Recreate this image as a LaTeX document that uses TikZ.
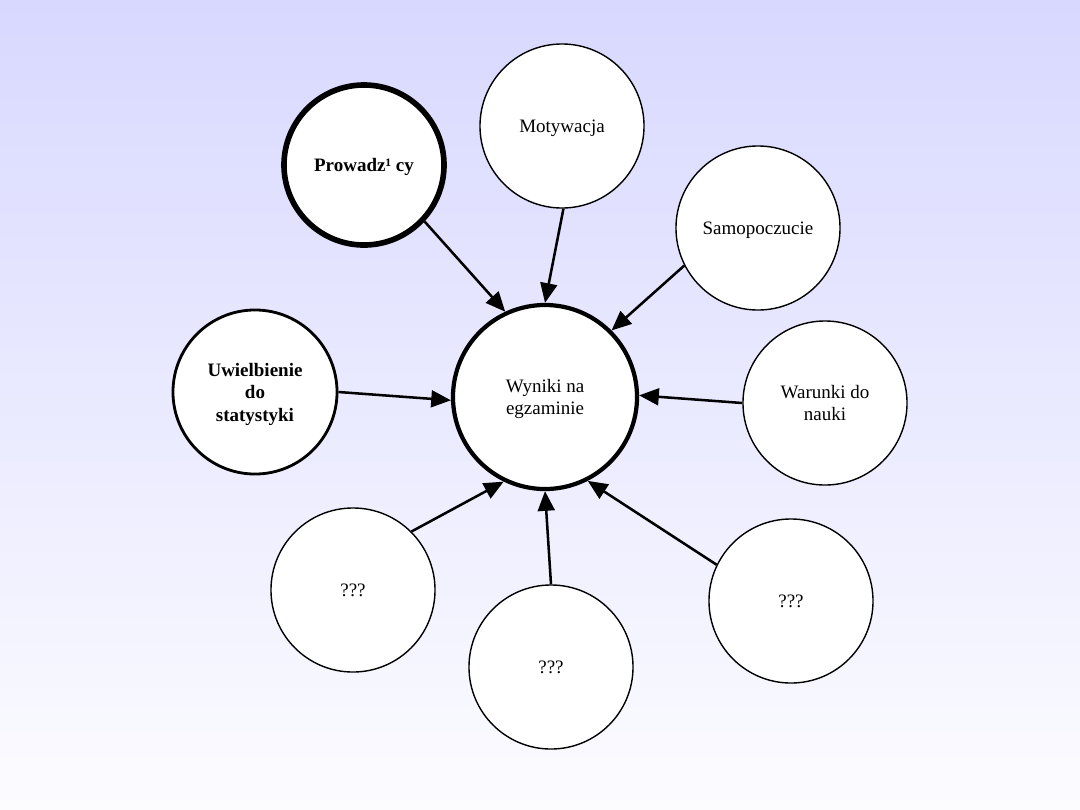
\documentclass[tikz,border=0pt]{standalone}
\usepackage{fontspec}
\setmainfont{Liberation Serif}
\usetikzlibrary{arrows.meta,positioning}
\definecolor{bgTop}{HTML}{D8D8FF}
\definecolor{bgBottom}{HTML}{FCFCFF}
\tikzset{
  >={Triangle[length=14pt,width=12pt]},
  factor/.style={circle,draw=black,fill=white,line width=1pt,minimum size=4.1cm,inner sep=2pt,align=center,text depth=-2pt,font=\fontsize{13.5}{16}\selectfont},
  factorbold/.style={factor,line width=2pt,font=\fontsize{13.5}{16}\selectfont\bfseries},
  leader/.style={factor,line width=4pt,minimum size=4cm,font=\fontsize{13.5}{16}\selectfont\bfseries},
  result/.style={factor,line width=3pt,minimum size=4.6cm},
  influence/.style={->,line width=1.8pt},
}

\begin{document}
\begin{tikzpicture}[x=0.025cm,y=-0.025cm]
  \shade[top color=bgTop, bottom color=bgBottom] (0,0) rectangle (1080,810);
  \useasboundingbox (0,0) rectangle (1080,810);

  \node[result] (exam) at (545,397) {Wyniki na\\egzaminie};

  \node[leader] (lecturer) at (364,165) {Prowadz¹ cy};
  \node[factor] (motivation) at (562,126) {Motywacja};
  \node[factor] (wellbeing) at (758,228) {Samopoczucie};
  \node[factor] (conditions) at (825,403) {Warunki do\\nauki};
  \node[factorbold] (love) at (255,392) {Uwielbienie\\do\\statystyki};
  \node[factor] (unknownA) at (353,590) {???};
  \node[factor] (unknownB) at (551,667) {???};
  \node[factor] (unknownC) at (791,601) {???};

  \draw[influence] (lecturer.-43) -- (exam.115);
  \draw[influence] (motivation.-89) -- (exam.90);
  \draw[influence] (wellbeing.-153) -- (exam.45);
  \draw[influence] (conditions.180) -- (exam.1);
  \draw[influence] (love.0) -- (exam.182);
  \draw[influence] (unknownA.45) -- (exam.-116);
  \draw[influence] (unknownB.90) -- (exam.-90);
  \draw[influence] (unknownC.154) -- (exam.-63);
\end{tikzpicture}
\end{document}
